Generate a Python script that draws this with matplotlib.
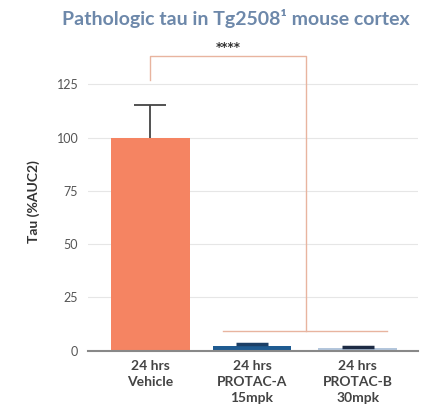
import matplotlib.pyplot as plt

groups = ["24 hrs\nVehicle", "24 hrs\nPROTAC-A\n15mpk", "24 hrs\nPROTAC-B\n30mpk"]
tau = [100.0, 2.2, 1.1]
tau_err_top = [115.5, 3.0, 1.6]
yticks = [0, 25, 50, 75, 100, 125]
sig_label = "****"

bar_colors = ["#f58462", "#1f5b91", "#b3c6dc"]
err_colors = ["#444444", "#1b3f66", "#1d2b44"]


def main():
    fig = plt.figure(figsize=(4.28, 4.16), dpi=100)
    ax = fig.add_axes([88 / 428, (416 - 350.7) / 416, 330 / 428, 298.2 / 416])

    pos = [0, 0.98, 2.0]
    ax.bar(pos, tau, width=0.76, color=bar_colors, zorder=2)

    # upper error bars only
    cap = 0.155
    for x, v, top, c in zip(pos, tau, tau_err_top, err_colors):
        lw = 1.3 if v > 10 else 2.5
        ax.vlines(x, v, top, color=c, lw=1.3, zorder=3)
        ax.hlines(top, x - cap, x + cap, color=c, lw=lw, zorder=3)

    # significance bracket
    bc = "#e8b49f"
    ax.plot([pos[0], pos[0], 1.5, 1.5], [127, 138.3, 138.3, 9.2], color=bc,
            lw=1.0, clip_on=False, zorder=1)
    ax.plot([0.7, 2.28], [9.2, 9.2], color=bc, lw=1.0, zorder=1)
    ax.text(0.75, 139.5, sig_label, ha="center", va="bottom", fontsize=8.5,
            color="#333333", fontweight="bold")

    ax.set_xlim(-0.6, 2.58)
    ax.set_ylim(0, 140)
    ax.set_yticks(yticks)
    ax.yaxis.grid(True, color="#e6e6e6", lw=0.8, zorder=0)
    ax.set_axisbelow(True)
    for s in ["top", "right", "left"]:
        ax.spines[s].set_visible(False)
    ax.spines["bottom"].set_color("#888888")
    ax.spines["bottom"].set_linewidth(1.5)
    ax.tick_params(axis="y", length=0, labelsize=9, labelcolor="#555555",
                   pad=7)
    for lab in ax.get_yticklabels():
        lab.set_fontfamily("Lato")
    ax.set_xticks(pos)
    ax.set_xticklabels(groups, fontsize=10, color="#444444",
                       fontweight="bold", family="Lato", linespacing=1.4)
    ax.tick_params(axis="x", length=0, pad=7)

    ax.set_ylabel("Tau (%AUC2)", fontsize=10, fontweight="bold",
                  color="#333333", family="Lato", labelpad=12)
    fig.text(0.55, 0.955, "Pathologic tau in Tg2508\u00b9 mouse cortex",
             ha="center", va="center", fontsize=14, fontweight="bold",
             color="#6d88aa", family="Lato")

    fig.savefig("out.png", dpi=100)


if __name__ == "__main__":
    main()
